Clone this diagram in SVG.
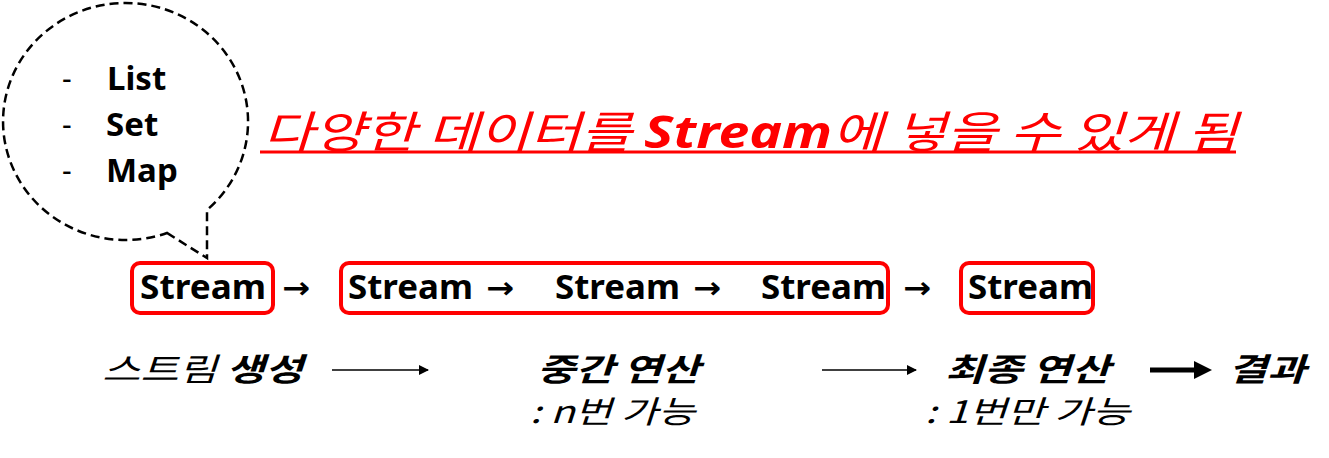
<svg xmlns="http://www.w3.org/2000/svg" width="1329" height="458" viewBox="0 0 1329 458">
<defs>
<style>
.lat{font-family:"Noto Sans","Noto Sans CJK KR",sans-serif;font-weight:bold;fill:#000}
.dash{font-family:"Noto Sans",sans-serif;font-weight:normal;fill:#000;font-size:30px}
.ko{font-family:"Noto Sans CJK KR","Noto Sans",sans-serif;fill:#000;font-style:italic}
.box{fill:none;stroke:#ff0000;stroke-width:4}
.arr{font-family:"DejaVu Sans",sans-serif;font-weight:bold;fill:#000;font-size:30px}
</style>
<marker id="ah" viewBox="0 0 10 10" refX="9" refY="5" markerWidth="12" markerHeight="10" orient="auto" markerUnits="userSpaceOnUse">
<path d="M0 0 L10 5 L0 10 Z" fill="#000"/>
</marker>
</defs>
<rect width="1329" height="458" fill="#fff"/>

<g id="bubble">
<path d="M167 233 L207 258 L207 210 A122.5 118.5 0 1 0 167 233 Z" fill="#fff" stroke="#000" stroke-width="2.5" stroke-dasharray="9 5"/>
<text class="dash" x="62" y="89">-</text>
<text class="lat" x="107" y="90" font-size="33">List</text>
<text class="dash" x="62" y="135">-</text>
<text class="lat" x="106" y="136" font-size="33">Set</text>
<text class="dash" x="62" y="181">-</text>
<text class="lat" x="106" y="182" font-size="33">Map</text>
</g>

<g id="title">
<text x="263" y="148" font-size="44" fill="#ff0000" font-style="italic" font-family="Noto Sans CJK KR, Noto Sans, sans-serif" textLength="975" lengthAdjust="spacingAndGlyphs">다양한 데이터를 <tspan font-weight="bold" font-family="Noto Sans, Noto Sans CJK KR, sans-serif">Stream</tspan>에 넣을 수 있게 됨</text>
<line x1="260" y1="152" x2="1236" y2="152" stroke="#ff0000" stroke-width="3"/>
</g>

<g id="create">
<rect class="box" x="132" y="263" width="141" height="50" rx="8"/>
<text class="lat" x="140" y="299" font-size="34" textLength="126" lengthAdjust="spacingAndGlyphs">Stream</text>
</g>

<g id="intermediate">
<rect class="box" x="341" y="263" width="547" height="50" rx="8"/>
<text class="lat" x="348" y="299" font-size="34" textLength="125" lengthAdjust="spacingAndGlyphs">Stream</text>
<text class="lat" x="555" y="299" font-size="34" textLength="125" lengthAdjust="spacingAndGlyphs">Stream</text>
<text class="lat" x="761" y="299" font-size="34" textLength="125" lengthAdjust="spacingAndGlyphs">Stream</text>
<text class="arr" x="486" y="298" textLength="28" lengthAdjust="spacingAndGlyphs">→</text>
<text class="arr" x="693" y="298" textLength="28" lengthAdjust="spacingAndGlyphs">→</text>
</g>

<g id="terminal">
<rect class="box" x="961" y="263" width="132" height="50" rx="8"/>
<text class="lat" x="968" y="299" font-size="34" textLength="125" lengthAdjust="spacingAndGlyphs">Stream</text>
</g>

<g id="connectors">
<text class="arr" x="282" y="298" textLength="28" lengthAdjust="spacingAndGlyphs">→</text>
<text class="arr" x="903" y="298" textLength="28" lengthAdjust="spacingAndGlyphs">→</text>
<line x1="332" y1="370" x2="428" y2="370" stroke="#000" stroke-width="1.5" marker-end="url(#ah)"/>
<line x1="822" y1="370" x2="916" y2="370" stroke="#000" stroke-width="1.5" marker-end="url(#ah)"/>
<line x1="1150" y1="370" x2="1198" y2="370" stroke="#000" stroke-width="5"/>
<path d="M1194 361 L1212 370 L1194 379 Z" fill="#000"/>
</g>

<g id="labels">
<text class="ko" x="102" y="381" font-size="32" textLength="201" lengthAdjust="spacingAndGlyphs">스트림 <tspan font-weight="bold">생성</tspan></text>
<text class="ko" x="537" y="381" font-size="32" font-weight="bold" textLength="163" lengthAdjust="spacingAndGlyphs">중간 연산</text>
<text class="ko" x="530" y="423" font-size="31" textLength="165" lengthAdjust="spacingAndGlyphs">: n번 가능</text>
<text class="ko" x="945" y="381" font-size="32" font-weight="bold" textLength="165" lengthAdjust="spacingAndGlyphs">최종 연산</text>
<text class="ko" x="925" y="423" font-size="31" textLength="205" lengthAdjust="spacingAndGlyphs">: 1번만 가능</text>
<text class="ko" x="1228" y="381" font-size="32" font-weight="bold" textLength="78" lengthAdjust="spacingAndGlyphs">결과</text>
</g>
</svg>
